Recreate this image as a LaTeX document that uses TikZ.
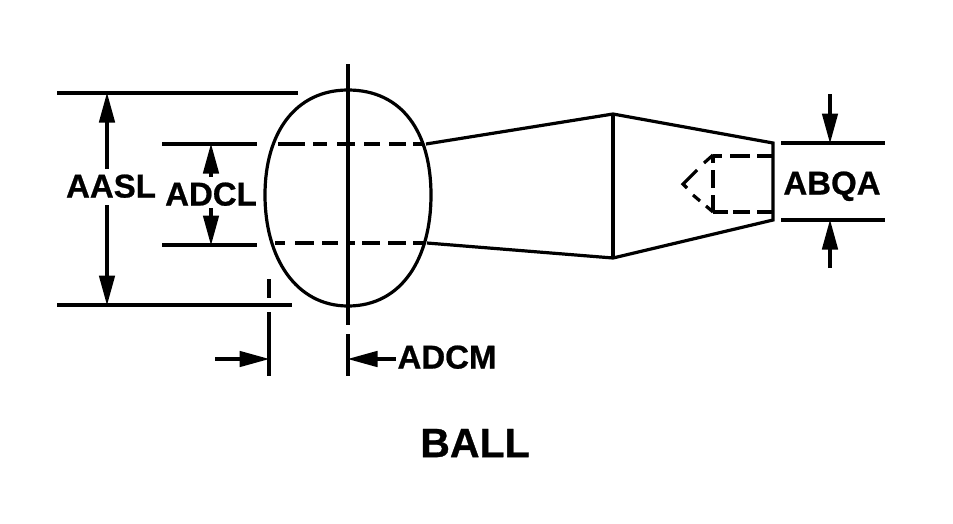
\documentclass[tikz,border=0pt]{standalone}
\usepackage{fontspec}
\setmainfont{Liberation Sans}[BoldFeatures={FakeBold=0.7}]
\usetikzlibrary{arrows.meta}
\tikzset{
  ln/.style={line width=3.2pt,black,line cap=butt,line join=miter},
  dimarrow/.style={ln,-{Triangle[length=30pt,width=15.5pt]},shorten >=-0.5pt},
  dimlabel/.style={inner sep=0pt,text depth=0pt,font=\bfseries\fontsize{33}{35}\selectfont},
  titlelabel/.style={inner sep=0pt,text depth=0pt,font=\bfseries\fontsize{41}{43}\selectfont}
}
\begin{document}
\begin{tikzpicture}[x=1pt,y=-1pt]
\useasboundingbox (0,0) rectangle (953,523);
% labels
\node[dimlabel] (aasl) at (111,186) {AASL};
\node[dimlabel] (adcl) at (211,194) {ADCL};
\node[dimlabel] (abqa) at (832,183) {ABQA};
\node[dimlabel] (adcm) at (447,357) {ADCM};
\node[titlelabel] (ball) at (475,443) {BALL};
% ball outline
\draw[ln] (348,90) .. controls (402,90) and (431,132) .. (431,195)
  .. controls (431,258) and (402,306) .. (348,306)
  .. controls (296,306) and (265,258) .. (265,195)
  .. controls (265,132) and (296,90) .. (348,90) -- cycle;
% centre line
\draw[ln] (348,64) -- (348,325);
\draw[ln] (348,334) -- (348,376);
\draw[ln] (269,279) -- (269,298);
\draw[ln] (269,312) -- (269,376);
% extension lines
\draw[ln] (57,93) -- (298,93);
\draw[ln] (57,305) -- (292,305);
\draw[ln] (162,144) -- (257,144);
\draw[ln] (162,245) -- (257,245);
\draw[ln] (781,143) -- (885,143);
\draw[ln] (781,220) -- (885,220);
% dimension arrows
\coordinate (aaslT) at (107,93);
\coordinate (aaslTs) at (107,169);
\coordinate (aaslB) at (107,305);
\coordinate (aaslBs) at (107,205);
\draw[dimarrow] (aaslTs) -- (aaslT);
\draw[dimarrow] (aaslBs) -- (aaslB);
\coordinate (adclT) at (211,144);
\coordinate (adclTs) at (211,177);
\coordinate (adclB) at (211,245);
\coordinate (adclBs) at (211,208);
\draw[dimarrow] (adclTs) -- (adclT);
\draw[dimarrow] (adclBs) -- (adclB);
\coordinate (abqaT) at (830,143);
\coordinate (abqaTs) at (830,94);
\coordinate (abqaB) at (830,220);
\coordinate (abqaBs) at (830,268);
\draw[dimarrow] (abqaTs) -- (abqaT);
\draw[dimarrow] (abqaBs) -- (abqaB);
\coordinate (adcmL) at (269,359);
\coordinate (adcmLs) at (215,359);
\coordinate (adcmR) at (348,359);
\coordinate (adcmRs) at (396,359);
\draw[dimarrow] (adcmLs) -- (adcmL);
\draw[dimarrow] (adcmRs) -- (adcmR);
% body
\draw[ln] (426,144) -- (613,114) -- (773,143) -- (773,220) -- (613,258) -- (427,243);
\draw[ln] (613,114) -- (613,258);
% hidden lines through ball
\foreach \a/\b in {278/305,313/327,337/355,364/380,389/406,413/424}
  \draw[ln] (\a,144) -- (\b,144);
\foreach \a/\b in {275/285,295/314,322/338,347/355,362/380,388/406,413/425}
  \draw[ln] (\a,243) -- (\b,243);
% hidden socket
\foreach \a/\b in {713/722,730/750,757/773}
  \draw[ln] (\a,156) -- (\b,156);
\foreach \a/\b in {713/728,733/750,757/773}
  \draw[ln] (\a,212) -- (\b,212);
\foreach \a/\b in {156/163,170/188,195/212}
  \draw[ln] (713,\a) -- (713,\b);
\draw[ln] (697,170) -- (683,184) -- (687,188);
\draw[ln] (704,163) -- (713,155);
\draw[ln] (693,195) -- (700,201);
\draw[ln] (706,206) -- (713,212);
\end{tikzpicture}
\end{document}
